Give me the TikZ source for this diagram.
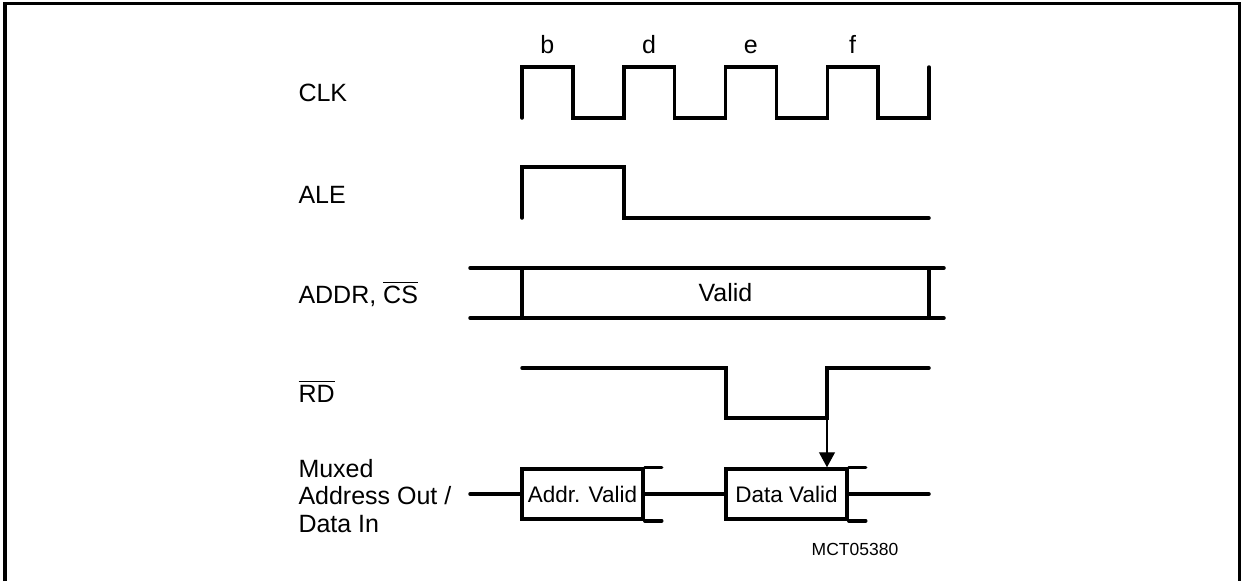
\documentclass[tikz,border=0pt]{standalone}
\usepackage{fontspec}
\setmainfont{Liberation Sans}
\usetikzlibrary{arrows.meta}
\newcommand{\olbar}[1]{$\overline{\mbox{#1}}$}

\begin{document}
\begin{tikzpicture}[
    x=0.4pt, y=-0.4pt,
    sig/.style={line width=1.4pt, line cap=round},
    signame/.style={anchor=base west, align=left, inner sep=0, font=\fontsize{10}{11}\selectfont},
    phase/.style={anchor=base, inner sep=0, font=\fontsize{10}{12}\selectfont},
    busbox/.style={draw, line width=1.4pt, minimum width=48.4pt, minimum height=20pt, inner sep=0, font=\fontsize{9}{11}\selectfont},
]
\useasboundingbox (0,0) rectangle (1242,581);

% frame, open at the bottom
\draw[line width=1.2pt] (5,581) -- (5,3) -- (1239,3) -- (1239,581);

% signal names
\node[signame] (clk) at (298,101) {CLK};
\node[signame] (ale) at (298,203) {ALE};
\node[signame] (addr) at (298,303) {ADDR, \olbar{CS}};
\node[signame] (rd) at (298,402) {\olbar{RD}};
\node[signame, anchor=west] (mux) at (298,496) {Muxed\\Address Out /\\Data In};

% clock phases
\foreach \lbl [count=\i] in {b,d,e,f}
  \node[phase] (ph\lbl) at ({445.5+101.75*\i},53) {\lbl};

% CLK
\draw[sig] (522,118) \foreach \t in {1,...,4} { -- ++(0,-51) -- ++(50.875,0) -- ++(0,51) -- ++(50.875,0) } -- ++(0,-51);

% ALE
\draw[sig] (522,218) -- (522,167) -- (624,167) -- (624,218) -- (929,218);

% ADDR, CS
\draw[sig] (470,268) -- (944,268);
\draw[sig] (470,318) -- (944,318);
\draw[sig] (522,268) -- (522,318);
\draw[sig] (929,268) -- (929,318);
\node[phase, anchor=center] (valid) at (725.5,293) {Valid};

% RD
\draw[sig] (522,368) -- (726,368) -- (726,418) -- (827,418) -- (827,368) -- (929,368);
\coordinate (rdrise) at (827,418);

% muxed bus
\node[busbox] (av) at (582.5,494) {Addr. Valid};
\node[busbox] (dv) at (786.5,494) {Data Valid};
\coordinate (busin) at (470,494);
\coordinate (busout) at (929,494);
\draw[sig] (busin) -- (av);
\draw[sig] (av) -- (dv);
\draw[sig] (dv) -- (busout);
\draw[sig] (av.north east) -- ++(17,0);
\draw[sig] (av.south east) -- ++(17,0);
\draw[sig] (dv.north east) -- ++(17,0);
\draw[sig] (dv.south east) -- ++(17,0);

\draw[line width=0.5pt, -{Triangle[length=6pt, width=6.4pt]}] (rdrise) -- (rdrise |- dv.north);

\node[anchor=base, inner sep=0, font=\fontsize{7}{8}\selectfont] (mct) at (855,555) {MCT05380};
\end{tikzpicture}
\end{document}
